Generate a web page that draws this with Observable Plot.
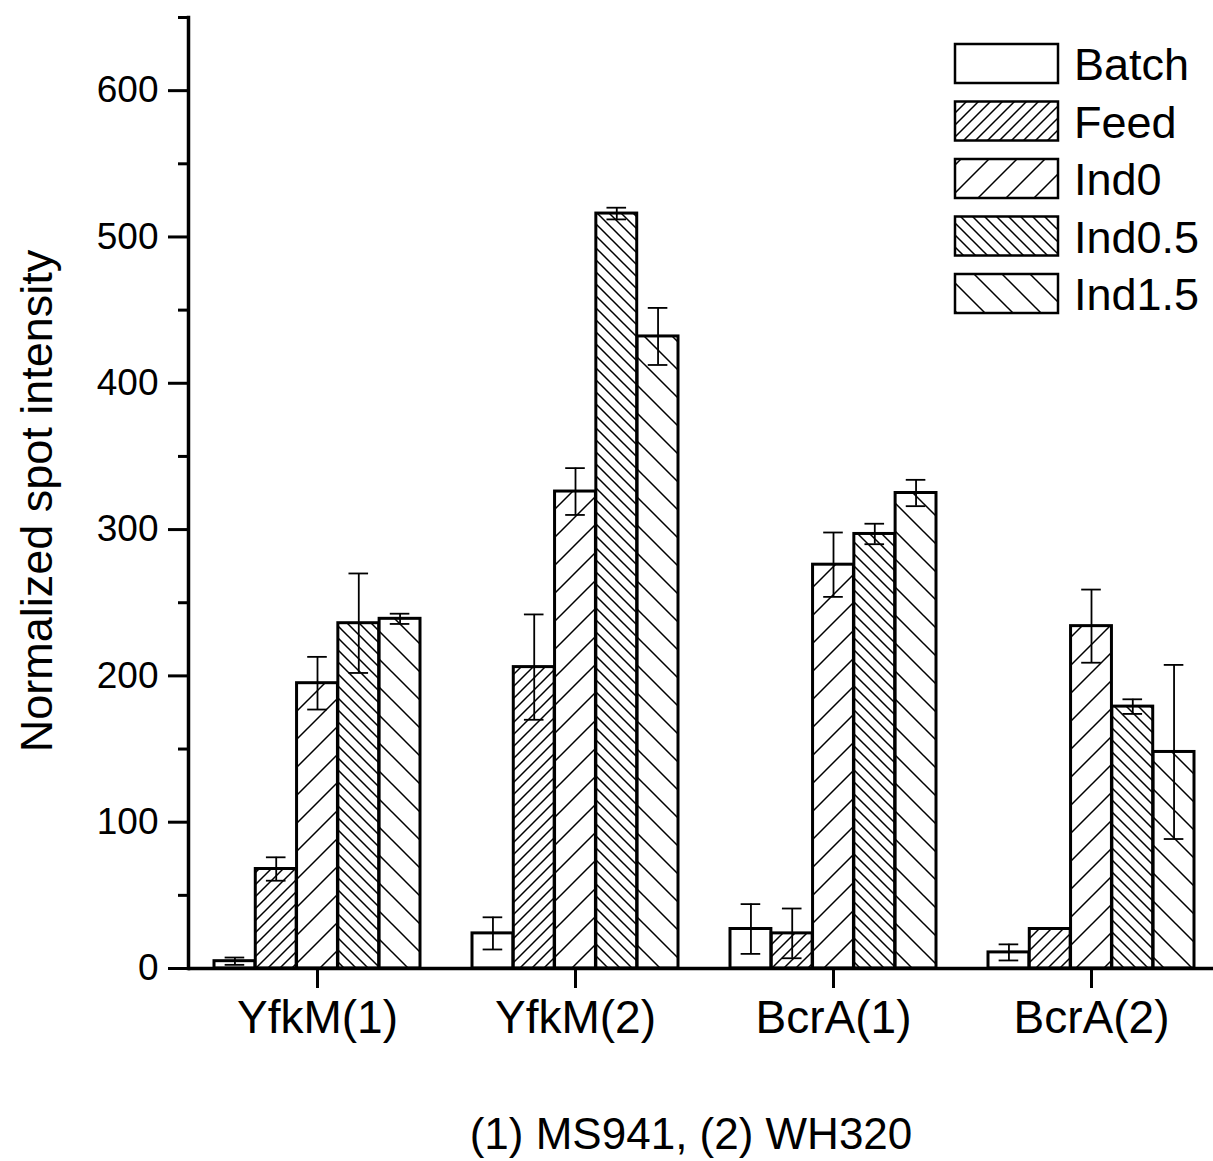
<!DOCTYPE html>
<html><head><meta charset="utf-8">
<script src="https://cdn.jsdelivr.net/npm/d3@7"></script>
<script src="https://cdn.jsdelivr.net/npm/@observablehq/plot@0.6"></script>
<style>
body{margin:0;background:#fff}
svg{font-family:"Liberation Sans",Arial,sans-serif}
</style>
</head><body><div id="chart"></div>
<script>
// ---- data ----
const groups = ["YfkM(1)", "YfkM(2)", "BcrA(1)", "BcrA(2)"];
const series = ["Batch", "Feed", "Ind0", "Ind0.5", "Ind1.5"];
const batchValues  = [5, 24, 27, 11];
const feedValues   = [68, 206, 24, 27];
const ind0Values   = [195, 326, 276, 234];
const ind05Values  = [236, 516, 297, 179];
const ind15Values  = [239, 432, 325, 148];
const batchErr  = [2.5, 11, 17, 5.5];
const feedErr   = [8, 36, 17, 0];
const ind0Err   = [18, 16, 22, 25];
const ind05Err  = [34, 4, 7, 5];
const ind15Err  = [3.5, 19.5, 9, 59.5];
const majorTicks = [0, 100, 200, 300, 400, 500, 600];
const minorTicks = [50, 150, 250, 350, 450, 550, 650];
const xTitle = "(1) MS941, (2) WH320";
const yTitle = "Normalized spot intensity";

const values = [batchValues, feedValues, ind0Values, ind05Values, ind15Values];
const errs = [batchErr, feedErr, ind0Err, ind05Err, ind15Err];
const rows = [];
series.forEach((s, i) => groups.forEach((g, j) => rows.push({group: g, series: s, si: i, value: values[i][j], err: errs[i][j]})));

// ---- layout constants ----
const W = 1213, H = 1161;
const xRange = [188, 1220];
const padIn = 0.2, padOut = 0.1;
const step = (xRange[1] - xRange[0]) / (groups.length - padIn + 2 * padOut);
const bandwidth = step * (1 - padIn);
const bw = bandwidth / series.length;
const capHalf = 10;
const fills = ["white", "url(#hatch1)", "url(#hatch2)", "url(#hatch3)", "url(#hatch4)"];

const marks = [];
series.forEach((s, i) => {
  const data = rows.filter(d => d.si === i);
  marks.push(Plot.barY(data, {
    x: "group", y: "value", fill: fills[i], stroke: "black", strokeWidth: 3,
    insetLeft: i * bw, insetRight: (series.length - 1 - i) * bw
  }));
});
series.forEach((s, i) => {
  const data = rows.filter(d => d.si === i && d.err > 0);
  const dx = (i - (series.length - 1) / 2) * bw;
  marks.push(Plot.ruleX(data, {x: "group", y1: d => d.value - d.err, y2: d => d.value + d.err, dx, stroke: "black", strokeWidth: 1.8}));
  const capOpts = {x: "group", stroke: "black", strokeWidth: 1.8,
    insetLeft: i * bw + bw / 2 - capHalf, insetRight: (series.length - 1 - i) * bw + bw / 2 - capHalf};
  marks.push(Plot.tickY(data, {...capOpts, y: d => d.value + d.err}));
  marks.push(Plot.tickY(data, {...capOpts, y: d => d.value - d.err}));
});

marks.push(Plot.axisY({ticks: majorTicks, tickSize: 20, tickPadding: 10, fontSize: 37, strokeWidth: 3, label: null}));
marks.push(Plot.axisY({ticks: minorTicks, tickSize: 10, strokeWidth: 3, tickFormat: () => "", label: null}));
marks.push(Plot.axisX({tickSize: 20, tickPadding: 12, fontSize: 46, strokeWidth: 3, label: null}));
marks.push(Plot.ruleY([0], {strokeWidth: 3.5}));
marks.push(Plot.frame({anchor: "left", strokeWidth: 3.5}));
marks.push(Plot.text([yTitle], {frameAnchor: "left", rotate: -90, dx: -151, dy: 8, fontSize: 45, lineAnchor: "middle", textAnchor: "middle", fill: "black"}));
marks.push(Plot.text([xTitle], {frameAnchor: "bottom", dx: -10, dy: 166, fontSize: 44, lineAnchor: "middle", fill: "black"}));

const plot = Plot.plot({
  width: W, height: H,
  marginLeft: 188, marginRight: 0, marginTop: 17, marginBottom: H - 968,
  style: {fontFamily: "Liberation Sans, Arial, sans-serif", color: "black", background: "white", overflow: "visible"},
  x: {domain: groups, range: xRange, paddingInner: padIn, paddingOuter: padOut},
  y: {domain: [0, 650], range: [968, 17]},
  marks
});

// ---- hatch patterns ----
const svg = d3.select(plot.tagName.toLowerCase() === "svg" ? plot : plot.querySelector("svg"));
const defs = svg.insert("defs", ":first-child");
function hatch(id, s, forward) {
  const p = defs.append("pattern").attr("id", id).attr("patternUnits", "userSpaceOnUse")
    .attr("width", s).attr("height", s);
  p.append("rect").attr("width", s).attr("height", s).attr("fill", "white");
  const d = forward
    ? `M0,${s} L${s},0 M${-2},2 L2,${-2} M${s - 2},${s + 2} L${s + 2},${s - 2}`
    : `M0,0 L${s},${s} M${-2},${s - 2} L2,${s + 2} M${s - 2},${-2} L${s + 2},2`;
  p.append("path").attr("d", d).attr("stroke", "black").attr("stroke-width", 1.5).attr("fill", "none");
}
hatch("hatch1", 12, true);
hatch("hatch2", 28, true);
hatch("hatch3", 12, false);
hatch("hatch4", 28, false);

// ---- legend ----
const leg = svg.append("g").attr("class", "legend").attr("text-anchor", "start");
series.forEach((s, i) => {
  const y0 = 44 + i * 57.5;
  leg.append("rect").attr("x", 955).attr("y", y0).attr("width", 103).attr("height", 39)
    .attr("fill", fills[i]).attr("stroke", "black").attr("stroke-width", 2.5);
  leg.append("text").attr("x", 1074).attr("y", y0 + 36).attr("font-size", 45)
    .attr("text-anchor", "start").attr("fill", "black").text(s);
});

document.getElementById("chart").appendChild(plot);
</script>
</body></html>
